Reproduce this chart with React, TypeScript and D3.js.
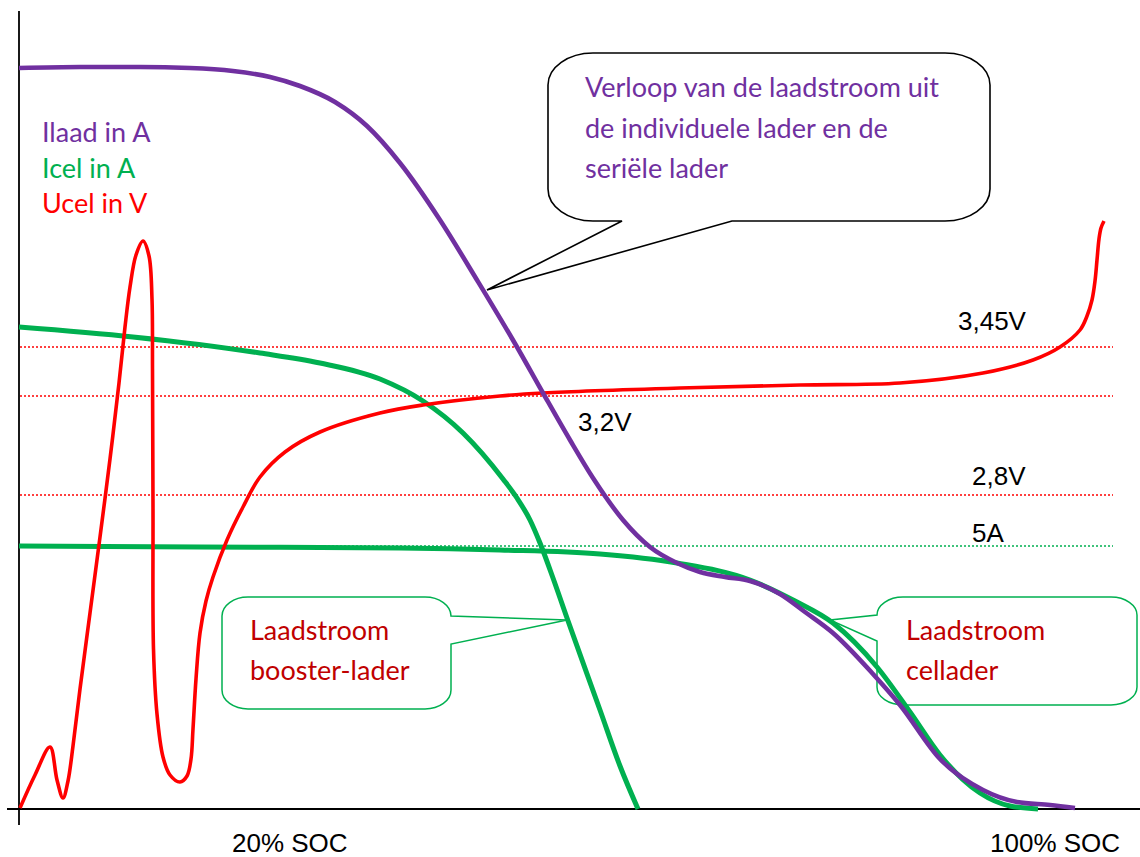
import * as d3 from "d3";

const WIDTH = 1140;
const HEIGHT = 857;

// curve points as [x, y] in chart units (x: 0..112, y: 0..80)
const ilaad: [number, number][] = [
  [0, 74.1], [6.1, 74.2], [12.1, 74.2], [17.1, 74.1], [21.4, 73.8], [25.1, 73.2],
  [28.1, 72.3], [31.6, 70.7], [34.8, 68.3], [38.1, 64.6], [42.1, 58.9], [45.8, 52.9],
  [49.8, 46.2], [52.4, 41.6], [55.1, 36.9], [57.4, 33.1], [60.4, 28.9], [63.1, 26.2],
  [65.8, 24.6], [68.1, 23.7], [70.6, 23.2], [73.1, 22.8], [76.1, 21.5], [78.6, 19.7],
  [81.4, 17.6], [85.4, 13.5], [88.1, 10.4], [92.1, 5.0], [96.4, 1.9], [99.8, 0.7],
  [103.1, 0.4], [105.6, 0.1],
];

const icelBooster: [number, number][] = [
  [0, 48.2], [11.4, 47.2], [24.1, 45.6], [30.1, 44.6], [36.1, 43.0], [40.4, 40.8],
  [44.4, 37.6], [48.4, 33.0], [49.8, 31.1], [51.1, 28.9], [52.1, 26.6], [53.4, 23.1],
  [54.8, 19.1], [58.1, 9.9], [60.1, 4.3], [61.9, 0],
];

const icelCellader: [number, number][] = [
  [0, 26.3], [18.1, 26.2], [38.1, 26.1], [48.1, 25.9], [58.1, 25.5], [65.8, 24.6],
  [73.1, 22.9], [77.6, 20.8], [81.4, 18.6], [85.8, 14.2], [89.1, 9.7], [92.1, 5.4],
  [96.1, 1.6], [99.1, 0.3], [101.9, 0],
];

const ucel: [number, number][] = [
  [0.1, 0.1], [1.6, 3.4], [3.1, 6.2], [3.8, 2.9], [4.4, 1.1], [4.9, 2.8], [5.4, 6.3],
  [6.1, 12.0], [7.1, 19.6], [8.1, 27.2], [9.1, 35.0], [10.0, 42.6], [10.6, 48.2],
  [11.1, 52.2], [11.7, 55.4], [12.4, 56.8], [13.0, 55.3], [13.3, 51.0], [13.35, 44],
  [13.4, 30], [13.45, 16], [13.8, 9.5], [14.4, 5.2], [15.1, 3.4], [16.1, 2.7], [16.8, 3.3],
  [17.2, 5.0], [17.4, 8.0], [17.7, 13.0], [18.1, 17.6], [18.7, 20.8], [19.4, 23.2],
  [20.8, 26.9], [22.4, 30.2], [24.1, 33.2], [26.6, 35.7], [30.1, 37.7], [36.1, 39.6],
  [40.4, 40.4], [48.1, 41.3], [52.4, 41.6], [66.1, 42.1], [78.1, 42.4], [88.1, 42.6],
  [96.4, 43.6], [101.4, 44.9], [104.1, 46.2], [106.1, 47.9], [106.8, 49.3], [107.3, 50.9],
  [107.6, 52.8], [107.8, 54.9], [108.0, 57.0], [108.2, 58.1], [108.5, 58.8],
];

// horizontal reference levels
const refValues = [46.2, 41.3, 31.4, 26.3];
const refLabels = ["3,45V", "3,2V", "2,8V", "5A"];
const refColors = ["#FF0000", "#FF0000", "#FF0000", "#00B050"];
const refLabelX = [93.9, 55.9, 95.3, 95.3];
const refLabelDy = [-17, 35, -10, -4];

const seriesLabels = ["Ilaad in A", "Icel in A", "Ucel in V"];
const seriesColors = ["#7030A0", "#00B050", "#FF0000"];

const xTickLabels = ["20% SOC", "100% SOC"];
const xTickPos = [21.3, 97.1];

const PURPLE = "#7030A0";
const GREEN = "#00B050";
const RED = "#FF0000";
const DARKRED = "#C00000";
const TEXT_FONT = "Lato, 'Open Sans', sans-serif";
const AXIS_FONT = "'Liberation Sans', Arial, sans-serif";

type Tail = { side: "right" | "bottom" | "left"; a: number; b: number; tip: [number, number] };

function calloutPath(x0: number, y0: number, x1: number, y1: number, rx: number, ry: number, tail: Tail) {
  const k = 0.5523;
  const [tx, ty] = tail.tip;
  let p = `M${x0 + rx},${y0}L${x1 - rx},${y0}`;
  p += `C${x1 - rx + rx * k},${y0} ${x1},${y0 + ry - ry * k} ${x1},${y0 + ry}`;
  if (tail.side === "right") p += `L${x1},${tail.a}L${tx},${ty}L${x1},${tail.b}`;
  p += `L${x1},${y1 - ry}`;
  p += `C${x1},${y1 - ry + ry * k} ${x1 - rx + rx * k},${y1} ${x1 - rx},${y1}`;
  if (tail.side === "bottom") p += `L${tail.b},${y1}L${tx},${ty}L${tail.a},${y1}`;
  p += `L${x0 + rx},${y1}`;
  p += `C${x0 + rx - rx * k},${y1} ${x0},${y1 - ry + ry * k} ${x0},${y1 - ry}`;
  if (tail.side === "left") p += `L${x0},${tail.b}L${tx},${ty}L${x0},${tail.a}`;
  p += `L${x0},${y0 + ry}`;
  p += `C${x0},${y0 + ry - ry * k} ${x0 + rx - rx * k},${y0} ${x0 + rx},${y0}Z`;
  return p;
}

export default function App() {
  const x = d3.scaleLinear().domain([0, 112]).range([19, 1139]);
  const y = d3.scaleLinear().domain([0, 80]).range([809, 9]);

  // smooth function-like curves
  const smooth = d3
    .line<[number, number]>()
    .x((d) => x(d[0]))
    .y((d) => y(d[1]))
    .curve(d3.curveMonotoneX);

  // the voltage trace folds back on itself, so it needs a parametric curve
  const loop = d3
    .line<[number, number]>()
    .x((d) => x(d[0]))
    .y((d) => y(d[1]))
    .curve(d3.curveCatmullRom.alpha(0.5));

  return (
    <>
      <style>{`body{margin:0}`}</style>
      <svg width={WIDTH} height={HEIGHT} style={{ display: "block", background: "#fff" }}>
        {/* callouts */}
        <path
          d={calloutPath(548, 53, 990, 221, 45, 32, { side: "bottom", a: 622, b: 732, tip: [487, 290] })}
          fill="#fff"
          stroke="#000"
          strokeWidth={1.6}
        />
        <path
          d={calloutPath(222, 597, 451, 709, 26, 19, { side: "right", a: 616, b: 644, tip: [567, 620] })}
          fill="#fff"
          stroke={GREEN}
          strokeWidth={1.5}
        />
        <path
          d={calloutPath(877, 597, 1137, 705, 26, 18, { side: "left", a: 615, b: 641, tip: [830, 620] })}
          fill="#fff"
          stroke={GREEN}
          strokeWidth={1.5}
        />

        {/* reference levels */}
        {refValues.map((v, i) => (
          <g key={refLabels[i]}>
            <line
              x1={x(0.1)}
              x2={x(109.4)}
              y1={y(v)}
              y2={y(v)}
              stroke={refColors[i]}
              strokeWidth={1.5}
              strokeDasharray="2 2"
            />
            <text x={x(refLabelX[i])} y={y(v) + refLabelDy[i]} fontFamily={AXIS_FONT} fontSize={26} fill="#000">
              {refLabels[i]}
            </text>
          </g>
        ))}

        {/* axes */}
        <line x1={x(0)} x2={x(0)} y1={y(79.8)} y2={y(-1.6)} stroke="#000" strokeWidth={1.8} />
        <line x1={x(-1.2)} x2={x(112.1)} y1={y(0)} y2={y(0)} stroke="#000" strokeWidth={1.8} />
        {xTickLabels.map((t, i) => (
          <text key={t} x={x(xTickPos[i])} y={852} fontFamily={AXIS_FONT} fontSize={26} fill="#000">
            {t}
          </text>
        ))}

        {/* series legend */}
        {seriesLabels.map((s, i) => (
          <text key={s} x={42} y={142 + i * 35.5} fontFamily={TEXT_FONT} fontSize={27} fill={seriesColors[i]}>
            {s}
          </text>
        ))}

        {/* curves */}
        <path d={smooth(icelBooster) ?? ""} fill="none" stroke={GREEN} strokeWidth={5} />
        <path d={smooth(icelCellader) ?? ""} fill="none" stroke={GREEN} strokeWidth={5} />
        <path d={loop(ucel) ?? ""} fill="none" stroke={RED} strokeWidth={3.6} strokeLinejoin="round" />
        <path d={smooth(ilaad) ?? ""} fill="none" stroke={PURPLE} strokeWidth={4.6} />

        {/* callout texts */}
        <g fontFamily={TEXT_FONT} fontSize={27} fill={PURPLE}>
          <text x={585} y={97}>Verloop van de laadstroom uit</text>
          <text x={585} y={138}>de individuele lader en de</text>
          <text x={585} y={178}>seriële lader</text>
        </g>
        <g fontFamily={TEXT_FONT} fontSize={27} fill={DARKRED}>
          <text x={250} y={640}>Laadstroom</text>
          <text x={250} y={680}>booster-lader</text>
          <text x={906} y={640}>Laadstroom</text>
          <text x={906} y={680}>cellader</text>
        </g>
      </svg>
    </>
  );
}
